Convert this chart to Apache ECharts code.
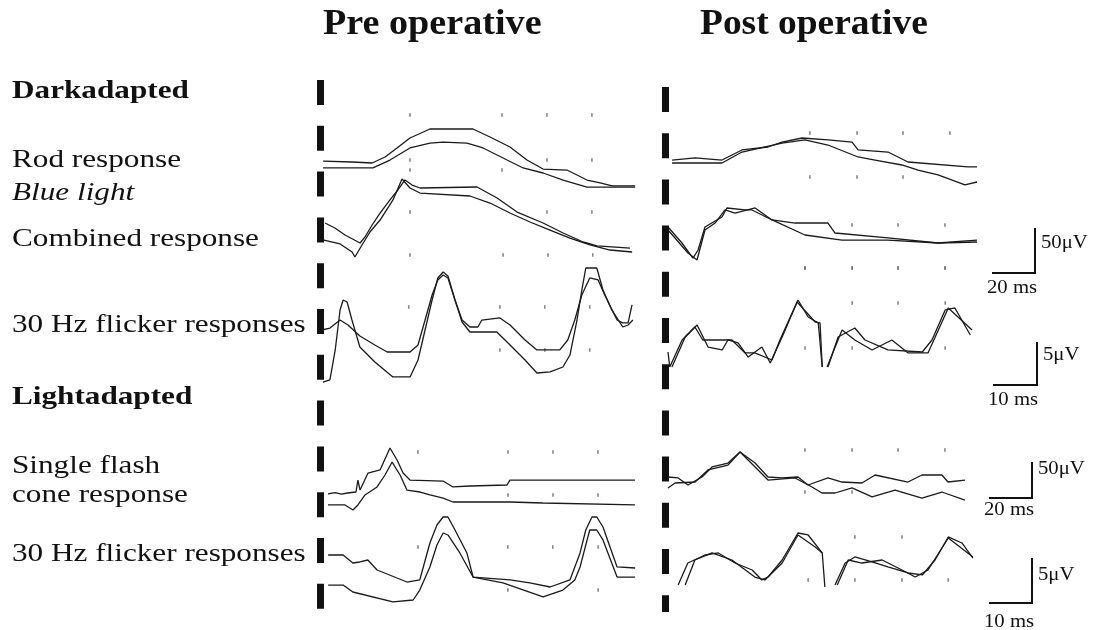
<!DOCTYPE html>
<html><head><meta charset="utf-8">
<script src="https://cdn.jsdelivr.net/npm/echarts@6/dist/echarts.min.js"></script>
<style>html,body{margin:0;padding:0;background:#fff}#c{width:1101px;height:630px}</style>
</head><body><div id="c"></div>
<script>
// ===== DATA (time in ms, amplitude in µV) =====
const panelTitles = ['Pre operative', 'Post operative'];
const rowLabels = ['Darkadapted', 'Rod response', 'Blue light', 'Combined response', '30 Hz flicker responses',
                   'Lightadapted', 'Single flash', 'cone response', '30 Hz flicker responses'];
const scaleLabels = ['50\u03bcV', '20 ms', '5\u03bcV', '10 ms'];

// Pre operative
const preRodA = [[0.5,43.3],[14.0,42.2],[23.3,41.1],[29.3,47.8],[34.9,57.8],[40.9,68.9],[50.2,78.9],[70.2,78.9],[78.1,70.0],[87.4,58.9],[95.3,44.4],[102.8,34.4],[113.9,33.3],[123.2,22.2],[129.3,18.9],[134.9,15.6],[145.6,15.6]];
const preRodB = [[0.5,35.6],[23.7,35.6],[31.6,44.4],[40.9,57.8],[50.2,63.3],[56.3,64.4],[67.4,63.3],[74.9,57.8],[84.2,46.7],[93.5,35.6],[102.8,30.0],[112.1,22.2],[123.2,14.4],[133.9,14.4],[145.6,14.4]];
const preCombA = [[1.4,41.1],[6.0,35.6],[10.7,27.8],[17.7,18.9],[20.0,25.6],[23.3,38.9],[27.0,52.2],[31.6,66.7],[35.3,77.8],[38.6,88.9],[41.9,83.3],[45.6,80.0],[72.1,81.1],[81.4,68.9],[90.7,53.3],[102.8,41.1],[112.1,30.0],[121.4,20.0],[127.9,15.6],[143.2,13.3]];
const preCombB = [[0.9,22.2],[8.4,17.8],[14.0,8.9],[15.3,3.3],[18.6,16.7],[22.3,31.1],[27.0,44.4],[33.0,66.7],[37.2,90.0],[40.9,80.0],[45.6,74.4],[68.8,71.1],[78.1,63.3],[87.4,52.2],[96.7,42.2],[106.0,33.3],[115.3,24.4],[124.6,16.7],[133.9,11.1],[144.2,8.9]];
const preDarkFlickA = [[0,6.86],[1.8,7.09],[4.1,8.02],[5.9,7.44],[8.6,6.16],[12.0,5.12],[14.8,4.30],[20.0,4.30],[21.8,5.12],[23.4,8.02],[25.0,10.93],[26.3,12.68],[27.5,13.26],[28.6,12.91],[30.2,10.35],[31.8,8.02],[33.6,7.21],[35.4,7.21],[36.3,8.02],[40.4,8.26],[42.7,7.44],[46.1,5.70],[48.8,4.54],[54.0,4.54],[55.8,5.70],[57.4,8.02],[59.0,10.93],[60.8,12.91],[62.7,12.68],[64.2,10.93],[67.0,8.02],[68.3,7.68],[69.5,7.68],[70.4,9.77]];
const preDarkFlickB = [[0.2,0.81],[1.8,1.05],[3.0,4.54],[4.1,9.19],[4.8,10.35],[5.7,10.12],[6.8,8.02],[8.6,4.88],[12.0,3.14],[16.1,1.40],[20.0,1.40],[21.8,3.37],[23.4,6.86],[25.0,10.35],[26.3,12.91],[27.5,13.61],[28.6,13.14],[30.2,10.35],[31.8,7.79],[33.6,6.63],[39.7,6.63],[42.7,5.12],[46.1,3.37],[48.8,1.86],[51.8,1.98],[54.7,2.56],[56.3,3.95],[57.9,8.02],[59.0,11.51],[59.9,14.07],[62.4,14.07],[63.8,11.51],[65.8,9.19],[68.3,7.21],[69.5,7.44],[70.6,8.02]];
const preConeA = [[2.8,29.0],[6.0,30.5],[9.0,28.8],[11.8,30.0],[15.8,31.1],[16.7,44.4],[17.7,33.3],[21.4,52.2],[27.0,55.6],[31.6,80.0],[34.9,66.7],[37.7,52.2],[40.9,44.4],[56.3,43.3],[60.9,36.7],[68.8,37.8],[86.0,38.9],[87.4,44.4],[145.5,44.4]];
const preConeB = [[2.8,16.7],[10.7,16.7],[14.4,11.1],[16.7,16.7],[20.0,27.8],[25.6,36.7],[29.3,50.0],[32.6,64.4],[36.3,50.0],[39.5,33.3],[45.6,31.1],[50.2,27.8],[56.3,24.4],[60.9,20.0],[87.4,20.0],[102.8,18.9],[145.5,16.7]];
const preLightFlickA = [[1.4,7.44],[4.8,7.44],[7.0,6.51],[8.6,6.63],[10.4,6.86],[12.5,5.70],[19.3,4.30],[22.2,4.54],[24.5,8.84],[26.1,10.93],[27.5,11.86],[28.6,11.86],[30.2,10.35],[32.9,7.68],[34.3,4.88],[42.7,4.54],[47.2,4.19],[51.8,3.72],[56.3,4.54],[58.6,7.68],[59.9,10.35],[61.3,11.86],[62.4,11.86],[63.8,10.70],[67.0,6.05],[71.1,5.93]];
const preLightFlickB = [[1.4,3.95],[4.8,3.95],[7.0,3.14],[16.1,1.98],[20.7,2.21],[22.2,3.37],[24.5,6.05],[26.1,8.61],[27.5,10.00],[28.6,9.77],[31.3,7.68],[34.3,4.88],[41.1,4.19],[50.2,2.56],[54.7,3.37],[57.4,4.54],[58.6,6.05],[59.9,8.61],[60.8,10.35],[62.4,10.35],[63.8,9.19],[67.0,4.88],[71.1,4.88]];

// Post operative
const postRodA = [[1.9,44.4],[12.6,46.7],[25.1,44.4],[34.4,55.6],[46.5,58.9],[53.0,64.4],[62.3,68.9],[74.4,66.7],[85.6,64.4],[88.4,55.6],[102.3,53.3],[111.6,42.2],[139.5,36.7],[143.7,36.7]];
const postRodB = [[1.9,41.1],[25.1,41.1],[34.4,53.3],[53.0,63.3],[63.7,66.7],[74.4,61.1],[88.4,47.8],[96.3,44.4],[108.8,38.9],[116.3,33.3],[125.6,27.8],[138.1,16.7],[143.7,20.0]];
const postCombA = [[0,47.8],[6.5,30.0],[11.6,13.3],[14.0,22.2],[17.2,47.8],[25.1,58.9],[27.4,68.9],[35.8,66.7],[39.1,66.7],[48.4,55.6],[59.1,52.2],[74.4,52.2],[77.7,41.1],[102.3,35.6],[125.6,30.0],[143.7,33.3]];
const postCombB = [[0,44.4],[9.3,18.9],[13.5,11.1],[17.2,44.4],[21.9,52.2],[26.5,66.7],[31.2,63.3],[40.5,68.9],[48.4,55.6],[63.7,38.9],[80.9,33.3],[102.3,33.3],[125.6,30.0],[143.7,31.1]];
const postDarkFlickA = [[0,4.3],[0.4,2.56],[3.2,5.70],[6.1,7.21],[7.9,5.70],[14.5,5.70],[17.5,4.19],[19.7,4.19],[23.6,3.37],[25.4,5.70],[29.5,10.35],[31.8,8.37],[34.1,7.68],[35.0,2.56],[35.6,null],[36.3,2.56],[38.6,6.05],[42.4,7.09],[44.7,5.70],[49.9,4.54],[57.7,4.30],[59.9,5.70],[62.9,9.19],[65.1,9.42],[68.6,6.28]];
const postDarkFlickB = [[0.9,2.56],[3.9,6.05],[6.6,7.44],[9.1,4.88],[12.3,4.54],[13.6,5.70],[15.9,5.35],[18.2,3.72],[21.3,4.88],[23.2,3.02],[25.9,6.05],[29.3,10.12],[33.4,7.79],[34.5,7.68],[35.0,2.56],[35.5,null],[36.1,2.56],[39.5,6.86],[42.4,5.70],[46.3,4.54],[50.8,5.70],[54.5,4.19],[59.0,4.19],[63.6,9.42],[69.0,6.86]];
const postConeA = [[0,47.8],[4.7,46.7],[9.3,38.9],[15.8,47.8],[20.5,58.9],[27.9,63.3],[33.5,75.6],[40.5,63.3],[46.5,47.8],[53.0,46.7],[60.5,47.8],[65.1,38.9],[74.4,46.7],[80.9,42.2],[90.2,41.1],[96.3,50.0],[111.6,42.2],[118.1,50.0],[127.4,50.0],[130.2,42.2],[138.1,44.4]];
const postConeB = [[0,35.6],[3.3,41.1],[12.6,42.2],[18.6,55.6],[27.9,61.1],[33.5,75.6],[40.5,58.9],[46.5,44.4],[59.1,46.7],[67.0,36.7],[71.6,30.0],[77.7,30.0],[85.6,35.6],[94.9,25.6],[105.6,33.3],[118.1,24.4],[127.4,31.1],[138.1,22.2]];
const postLightFlickA = [[2.3,3.95],[4.5,6.51],[8.4,7.44],[11.4,7.68],[15.2,6.51],[19.1,5.70],[21.3,4.54],[22.7,4.88],[25.9,6.86],[29.5,10.00],[31.8,9.77],[35.0,7.68],[35.6,3.72],[36.5,null],[37.9,3.95],[40.2,6.51],[42.4,7.21],[46.3,6.63],[49.9,6.05],[54.5,5.35],[57.7,5.12],[60.6,6.86],[63.6,9.54],[66.7,8.84],[69.2,7.09]];
const postLightFlickB = [[3.9,3.95],[6.1,6.86],[10.0,7.68],[14.5,6.86],[19.7,4.88],[22.0,4.54],[25.9,6.51],[29.5,9.77],[33.4,8.37],[35.0,7.68],[36.5,null],[38.4,3.95],[40.9,6.86],[44.0,6.51],[48.6,6.86],[53.1,5.70],[56.1,4.88],[59.0,5.70],[63.6,9.42],[69.2,7.21]];

// Faint recorder grid dots (ms, µV) per row
const preRodDots = [[40.9,94.4],[83.7,94.4],[104.6,94.4],[125.5,94.4],[40.9,44.4],[104.6,44.4],[125.5,44.4],[40.9,33.3],[83.7,33.3]];
const preCombDots = [[40.9,53.3],[104.6,53.3],[125.5,53.3],[40.9,5.6],[84.2,5.6],[105.1,5.6],[125.9,5.6]];
const preDarkFlickDots = [[19.7,9.54],[40.4,9.54],[50.6,9.54],[60.8,9.54],[40.4,4.54],[50.6,4.54],[60.8,4.54]];
const preConeDots = [[44.6,75.6],[86.5,75.6],[107.4,75.6],[128.3,75.6],[86.5,27.8],[107.4,27.8],[128.3,27.8]];
const preLightFlickDots = [[21.8,8.37],[42.2,8.37],[52.4,8.37],[62.7,8.37],[42.2,3.37],[62.7,3.37]];
const postRodDots = [[66.0,74.4],[87.9,74.4],[109.3,74.4],[131.1,74.4],[66.0,25.6],[87.9,25.6],[109.3,25.6]];
const postCombDots = [[85.6,50.0],[107.0,50.0],[128.8,50.0],[63.7,2.2],[85.6,2.2],[107.0,2.2],[128.8,2.2]];
const postDarkFlickDots = [[31.1,14.07],[41.8,14.07],[52.2,14.07],[62.9,14.07],[41.8,10.0],[52.2,10.0],[62.9,10.0],[31.1,4.77],[41.8,4.77],[62.9,4.77]];
const postConeDots = [[63.7,77.8],[85.6,77.8],[107.0,77.8],[128.8,77.8],[63.7,31.1],[85.6,31.1]];
const postLightFlickDots = [[42.4,9.54],[53.1,9.54],[31.8,4.54],[42.4,4.54],[53.1,4.54],[63.6,4.54]];

// ===== LAYOUT =====
const panels = [
  {left: 322, width: 314, ms20: 146.0, ms10: 71.3,
   rows: [[preRodA, preRodB],[preCombA, preCombB],[preDarkFlickA, preDarkFlickB],[preConeA, preConeB],[preLightFlickA, preLightFlickB]],
   dots: [preRodDots, preCombDots, preDarkFlickDots, preConeDots, preLightFlickDots],
   rowTops: [110, 170, 260, 430, 490]},
  {left: 668, width: 312, ms20: 145.1, ms10: 70.8,
   rows: [[postRodA, postRodB],[postCombA, postCombB],[postDarkFlickA, postDarkFlickB],[postConeA, postConeB],[postLightFlickA, postLightFlickB]],
   dots: [postRodDots, postCombDots, postDarkFlickDots, postConeDots, postLightFlickDots],
   rowTops: [110, 180, 260, 430, 490]}
];
const rowKinds = ['slow', 'slow', 'flicker', 'slow', 'flicker'];

const grids = [], xAxes = [], yAxes = [], series = [];
panels.forEach(p => {
  p.rows.forEach((pair, r) => {
    const idx = grids.length;
    const flick = rowKinds[r] === 'flicker';
    const h = flick ? 129 : 90;
    grids.push({left: p.left, top: p.rowTops[r], width: p.width, height: h, containLabel: false});
    xAxes.push({type: 'value', gridIndex: idx, min: 0, max: flick ? p.ms10 : p.ms20, show: false});
    yAxes.push({type: 'value', gridIndex: idx, min: 0, max: flick ? 15 : 100, show: false});
    series.push({type: 'scatter', xAxisIndex: idx, yAxisIndex: idx, data: p.dots[r], symbol: 'rect',
      symbolSize: [1.6, 3.5], itemStyle: {color: '#666'}, silent: true, z: 1});
    pair.forEach(d => series.push({
      type: 'line', xAxisIndex: idx, yAxisIndex: idx, data: d, showSymbol: false, connectNulls: false,
      lineStyle: {color: '#1a1a1a', width: 1.3}, silent: true, clip: false, z: 2
    }));
  });
});

// ===== GRAPHICS (text, dashed stimulus markers, scale bars) =====
const G = [];
const SERIF = '"Liberation Serif","Times New Roman",serif';
function txt(s, x, y, size, o) {
  o = o || {};
  G.push({type: 'text', x: x, y: y, scaleX: o.sx || 1.2, silent: true,
    style: {text: s, x: 0, y: 0, font: (o.style || 'normal') + ' ' + (o.weight || 'normal') + ' ' + size + 'px ' + SERIF,
            fill: '#111', align: o.align || 'left', verticalAlign: 'middle'}});
}
function line(x1, y1, x2, y2, w, dash) {
  G.push({type: 'line', silent: true, shape: {x1: x1, y1: y1, x2: x2, y2: y2},
    style: {stroke: '#111', lineWidth: w, lineDash: dash || null}});
}
txt(panelTitles[0], 323, 25, 35, {weight: 'bold', sx: 1.09});
txt(panelTitles[1], 700, 25, 35, {weight: 'bold', sx: 1.07});
const labelY = [91.5, 160, 193.5, 239, 325, 397, 466.5, 495, 554];
rowLabels.forEach((s, i) => {
  const bold = (i === 0 || i === 5);
  txt(s, 12, labelY[i], 26, {weight: bold ? 'bold' : 'normal', style: i === 2 ? 'italic' : 'normal', sx: 1.2});
});
// dashed stimulus lines
line(320.5, 80, 320.5, 609, 7, [25, 20.8]);
line(665.5, 87, 665.5, 612, 7, [25, 21.2]);
// scale bars
const bars = [
  {vx: 1035, vy1: 228, vy2: 273, hx1: 992, t1: scaleLabels[0], t2: scaleLabels[1], ty1: 243, ty2: 288},
  {vx: 1037, vy1: 342, vy2: 385, hx1: 993, t1: scaleLabels[2], t2: scaleLabels[3], ty1: 355, ty2: 400},
  {vx: 1032, vy1: 462, vy2: 498, hx1: 989, t1: scaleLabels[0], t2: scaleLabels[1], ty1: 469, ty2: 510},
  {vx: 1032, vy1: 558, vy2: 603, hx1: 989, t1: scaleLabels[2], t2: scaleLabels[3], ty1: 575, ty2: 622}
];
bars.forEach(b => {
  line(b.vx, b.vy1, b.vx, b.vy2 + 1, 2);
  line(b.hx1, b.vy2, b.vx + 1, b.vy2, 2);
  txt(b.t1, b.vx + 6, b.ty1, 18, {sx: 1.15});
  txt(b.t2, b.hx1 - 5, b.ty2, 18, {sx: 1.15});
});

const chart = echarts.init(document.getElementById('c'), null, {renderer: 'canvas'});
chart.setOption({
  animation: false,
  backgroundColor: '#ffffff',
  grid: grids, xAxis: xAxes, yAxis: yAxes, series: series,
  graphic: {elements: G}
});
</script></body></html>
